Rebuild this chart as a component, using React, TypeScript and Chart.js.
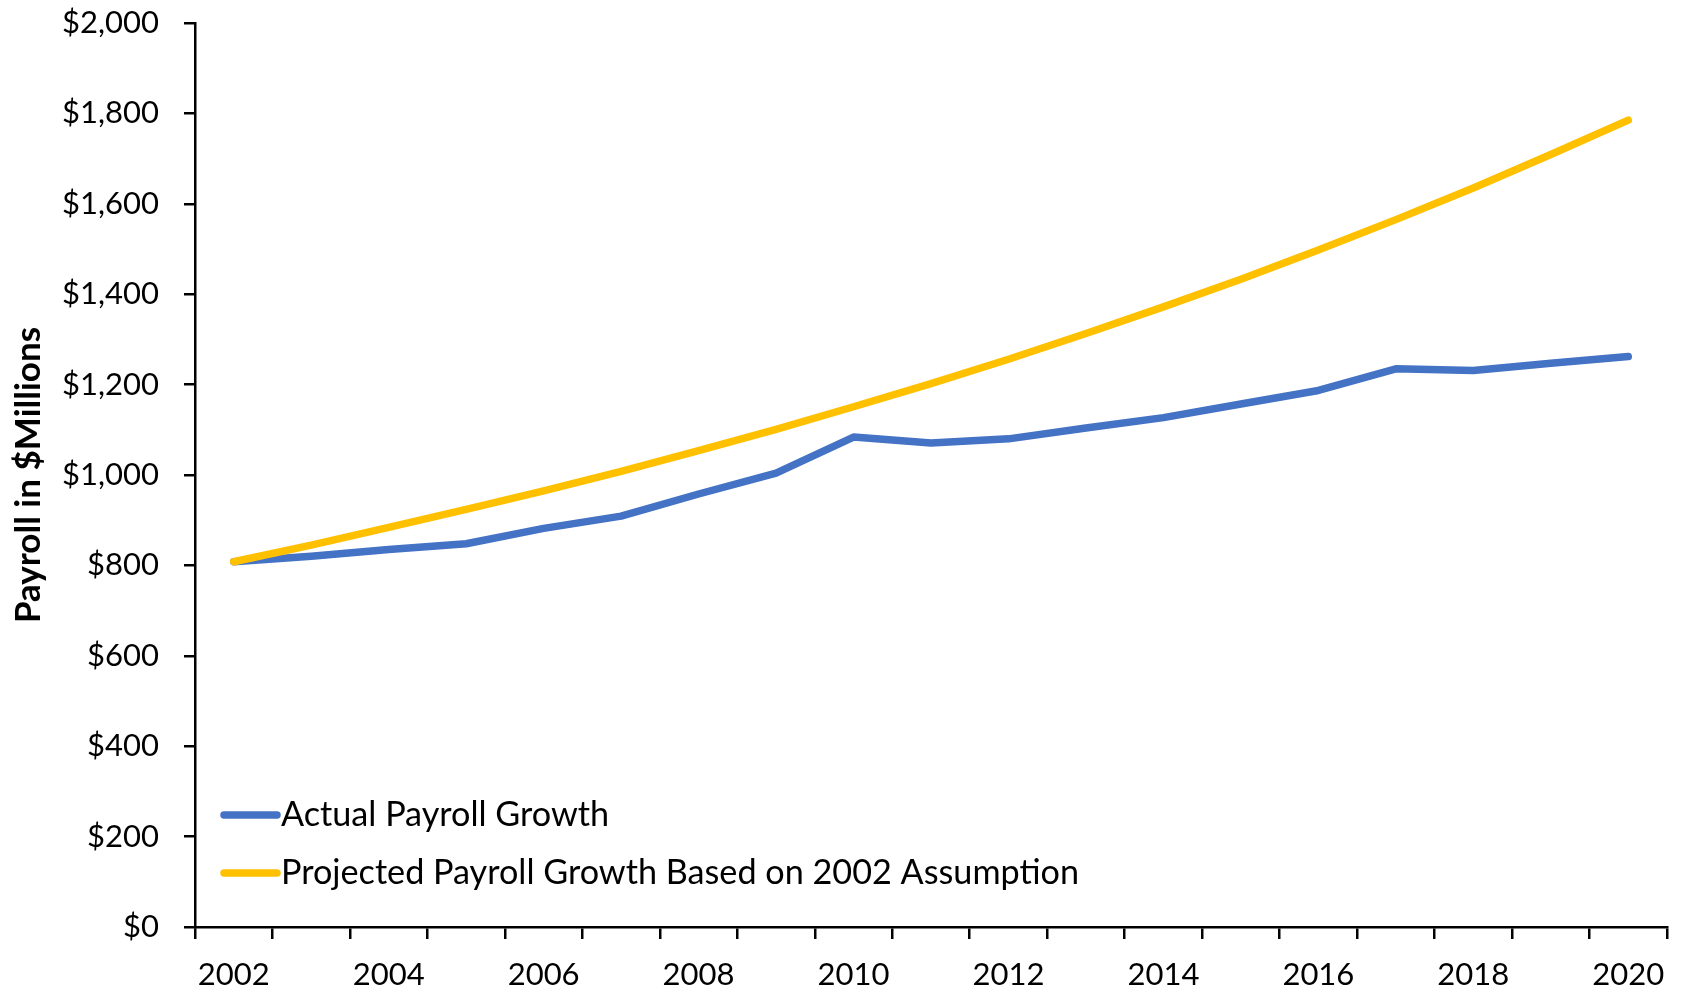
import React, { useEffect, useRef } from "react";
import { Chart, registerables } from "chart.js";

Chart.register(...registerables);

const years: string[] = [
  "2002", "2003", "2004", "2005", "2006", "2007", "2008", "2009", "2010", "2011",
  "2012", "2013", "2014", "2015", "2016", "2017", "2018", "2019", "2020",
];

const actualPayroll: number[] = [
  808, 820, 835, 848, 882, 909, 958, 1004, 1084, 1071,
  1080, 1104, 1127, 1157, 1187, 1235, 1231, 1247, 1262,
];

const projectedPayroll: number[] = [
  808, 845, 884, 924, 965, 1008, 1054, 1101, 1151, 1202,
  1256, 1313, 1372, 1433, 1498, 1565, 1635, 1709, 1785,
];

const seriesLabels: string[] = [
  "Actual Payroll Growth",
  "Projected Payroll Growth Based on 2002 Assumption",
];

const yAxisTitle = "Payroll in $Millions";

const BLUE = "#4472C4";
const GOLD = "#FFC000";
const FONT = "Lato, 'Open Sans', sans-serif";

const legendPlugin = {
  id: "insideLegend",
  afterDatasetsDraw(chart: any) {
    const { ctx, chartArea } = chart;
    const items = chart.data.datasets.map((d: any) => ({ label: d.label, color: d.borderColor }));
    const rows = [chartArea.bottom - 112, chartArea.bottom - 54];
    ctx.save();
    items.forEach((it: any, i: number) => {
      const y = rows[i];
      const x0 = chartArea.left + 29;
      ctx.beginPath();
      ctx.strokeStyle = it.color;
      ctx.lineWidth = 7.5;
      ctx.lineCap = "round";
      ctx.moveTo(x0, y);
      ctx.lineTo(x0 + 53, y);
      ctx.stroke();
      ctx.fillStyle = "#000";
      ctx.font = `34.2px ${FONT}`;
      ctx.textBaseline = "middle";
      ctx.textAlign = "left";
      ctx.fillText(it.label, x0 + 57, y);
    });
    ctx.restore();
  },
};

export default function App() {
  const canvasRef = useRef<HTMLCanvasElement | null>(null);

  useEffect(() => {
    if (!canvasRef.current) return;
    const chart = new Chart(canvasRef.current, {
      type: "line",
      data: {
        labels: years,
        datasets: [
          {
            label: seriesLabels[0],
            data: actualPayroll,
            borderColor: BLUE,
            backgroundColor: BLUE,
            borderWidth: 7.5,
            borderCapStyle: "round",
            borderJoinStyle: "round",
            pointRadius: 0,
            tension: 0,
            order: 1,
          },
          {
            label: seriesLabels[1],
            data: projectedPayroll,
            borderColor: GOLD,
            backgroundColor: GOLD,
            borderWidth: 7.5,
            borderCapStyle: "round",
            borderJoinStyle: "round",
            pointRadius: 0,
            tension: 0,
            order: 0,
          },
        ],
      },
      options: {
        responsive: false,
        animation: false,
        layout: { padding: { top: 23, right: 17, left: 0, bottom: 0 } },
        plugins: {
          legend: { display: false },
          tooltip: { enabled: false },
        },
        scales: {
          x: {
            type: "category",
            offset: true,
            border: { display: true, color: "#000", width: 2.5 },
            grid: {
              offset: true,
              drawOnChartArea: false,
              drawTicks: true,
              tickLength: 12,
              color: "#000",
              lineWidth: 2.5,
            },
            ticks: {
              autoSkip: false,
              maxRotation: 0,
              color: "#000",
              padding: 17,
              font: { family: FONT, size: 31 },
              callback: (_v: any, i: number) => (i % 2 === 0 ? years[i] : ""),
            },
            afterFit: (scale: any) => {
              scale.height = 66;
            },
          },
          y: {
            min: 0,
            max: 2000,
            border: { display: true, color: "#000", width: 2.5 },
            grid: {
              drawOnChartArea: false,
              drawTicks: true,
              tickLength: 11,
              color: "#000",
              lineWidth: 2.5,
            },
            ticks: {
              stepSize: 200,
              color: "#000",
              padding: 25,
              font: { family: FONT, size: 31 },
              callback: (v: any) => "$" + Number(v).toLocaleString("en-US"),
            },
            title: {
              display: true,
              text: yAxisTitle,
              color: "#000",
              font: { family: FONT, size: 35, weight: "bold" },
              padding: { top: 8, bottom: 0 },
            },
            afterFit: (scale: any) => {
              scale.width = 195;
              scale.paddingTop = 0;
              scale.paddingBottom = 0;
            },
          },
        },
      },
      plugins: [legendPlugin],
    });
    return () => chart.destroy();
  }, []);

  return (
    <div style={{ position: "fixed", left: 0, top: 0, width: 1684, height: 993, background: "#fff" }}>
      <canvas ref={canvasRef} width={1684} height={993} style={{ display: "block" }} />
    </div>
  );
}
